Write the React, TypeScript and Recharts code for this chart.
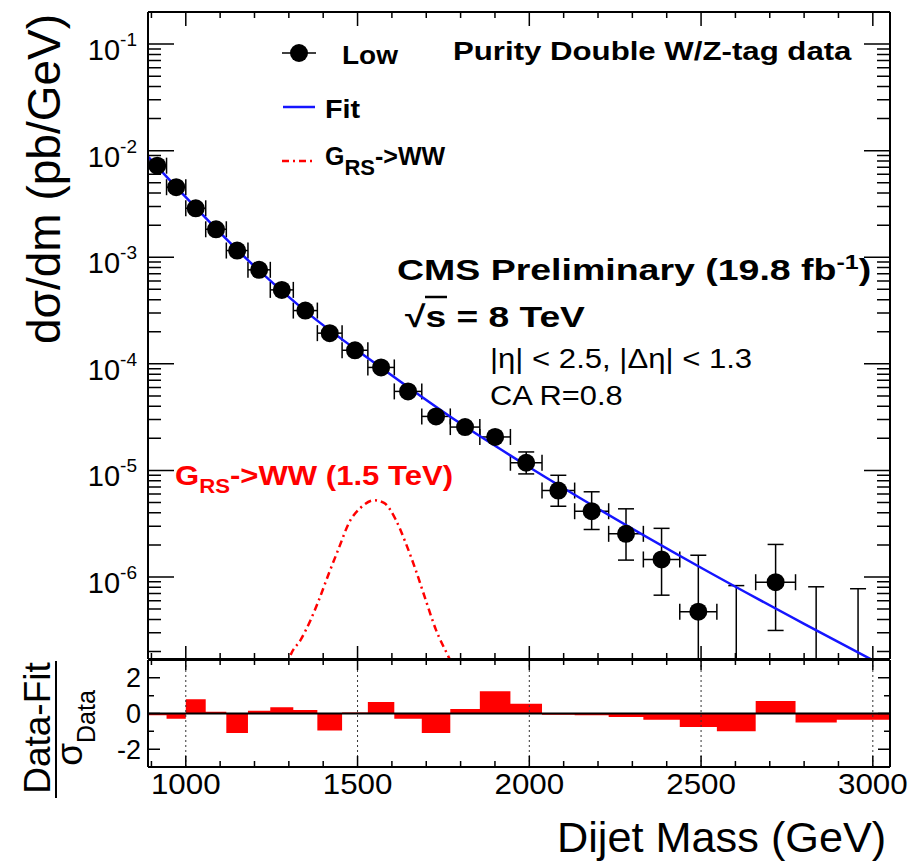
import React from "react";
import {
  ComposedChart,
  XAxis,
  YAxis,
  Line,
  Scatter,
  ErrorBar,
  Area,
  ReferenceLine,
} from "recharts";

// dijet mass binning (GeV)
const binEdges = [
  890, 944, 1000, 1058, 1118, 1181, 1246, 1313, 1383, 1455, 1530, 1607, 1687, 1770, 1856,
  1945, 2037, 2132, 2231, 2332, 2438, 2546, 2659, 2775, 2895, 3019, 3147,
];

// measured dsigma/dm per bin in pb/GeV (null = empty bin)
const xsec = [
  7.23e-3, 4.54e-3, 2.88e-3, 1.83e-3, 1.156e-3, 7.62e-4, 4.94e-4, 3.16e-4, 1.94e-4, 1.34e-4,
  9.25e-5, 5.51e-5, 3.21e-5, 2.55e-5, 2.06e-5, 1.18e-5, 6.47e-6, 4.14e-6, 2.54e-6, 1.46e-6,
  4.72e-7, null, 8.93e-7, null, null,
];
// lower / upper ends of the vertical error bars (null = hidden under the marker)
const xsecLow = [
  null, null, null, null, null, null, null, null, null, null, null, null, null, null, null,
  9.27e-6, 4.61e-6, 2.79e-6, 1.44e-6, 6.75e-7, 8e-8, null, 3.15e-7, null, null,
];
const xsecHigh = [
  null, null, null, null, null, null, null, null, null, null, null, null, null, null, null,
  1.49e-5, 9.0e-6, 6.3e-6, 4.36e-6, 2.86e-6, 1.6e-6, 8.3e-7, 2.02e-6, 8.09e-7, 7.76e-7,
];

// fitted background
const fitMass = [890, 1000, 1150, 1350, 1569, 1800, 2000, 2200, 2500, 2800, 3050];
const fitValue = [8.8e-3, 3.66e-3, 1.17e-3, 3.09e-4, 9.2e-5, 2.75e-5, 1.07e-5, 4.37e-6, 1.22e-6, 3.63e-7, 1.36e-7];

// RS graviton -> WW, 1.5 TeV
const signalMass = [1290, 1304, 1335, 1364, 1388, 1417, 1446, 1475, 1509, 1548, 1577, 1611, 1640, 1669, 1698, 1728, 1766, 1780];
const signalValue = [
  1.3e-7, 1.81e-7, 2.59e-7, 3.99e-7, 6.14e-7, 1.09e-6, 1.88e-6, 3.22e-6, 4.46e-6, 5.25e-6,
  4.96e-6, 3.46e-6, 2.09e-6, 1.17e-6, 6.14e-7, 3.21e-7, 1.75e-7, 1.4e-7,
];

// (data - fit) / sigma per bin
const pulls = [
  -0.1, -0.3, 0.8, 0.1, -1.1, 0.15, 0.35, 0.2, -0.95, 0.05, 0.65, -0.3, -1.1, 0.25, 1.25,
  0.55, -0.07, -0.1, -0.2, -0.35, -0.75, -1.0, 0.7, -0.5, -0.35, -0.35,
];

const massLabels = [1000, 1500, 2000, 2500, 3000];
const decadeLabels = [-6, -5, -4, -3, -2, -1];
const pullLabels = [-2, 0, 2];
const pullMinor = [-3, -1, 1, 3];

const M_DOMAIN: [number, number] = [890, 3050];
const Y_DOMAIN: [number, number] = [1.7e-7, 0.2];
const P_DOMAIN: [number, number] = [-3, 3];
const EMPTY_FLOOR = 1e-8;

const FONT = "'Liberation Sans', Arial, Helvetica, sans-serif";
const BLUE = "#1515ff";
const RED = "#ff0000";

const massMinor: number[] = [];
for (let m = 900; m <= 3000; m += 100) if (m % 500 !== 0) massMinor.push(m);

const decades: number[] = [];
const logMinor: number[] = [];
for (let e = -7; e <= -1; e++) {
  for (let d = 1; d <= 9; d++) {
    const v = d * Math.pow(10, e);
    if (v < Y_DOMAIN[0] || v > Y_DOMAIN[1]) continue;
    if (d === 1) decades.push(v);
    else logMinor.push(v);
  }
}

const points = xsec
  .map((v, i) => {
    const lo = binEdges[i];
    const hi = binEdges[i + 1];
    if (v == null) return null;
    return {
      m: (lo + hi) / 2,
      v,
      ex: (hi - lo) / 2,
      ey: xsecLow[i] != null && xsecHigh[i] != null ? [v - (xsecLow[i] as number), (xsecHigh[i] as number) - v] : null,
    };
  })
  .filter(Boolean);

// empty bins only carry an upper error bar rising from the bottom of the frame
const emptyBins = xsec
  .map((v, i) => {
    if (v != null) return null;
    return {
      m: (binEdges[i] + binEdges[i + 1]) / 2,
      v: EMPTY_FLOOR,
      ey: [0, (xsecHigh[i] as number) - EMPTY_FLOOR],
    };
  })
  .filter(Boolean);

const fitData = fitMass.map((m, i) => ({ m, v: fitValue[i] }));
const signalData = signalMass.map((m, i) => ({ m, v: signalValue[i] }));
const pullData = binEdges.map((m, i) => ({ m, r: pulls[Math.min(i, pulls.length - 1)] }));

const frame = { stroke: "#000", strokeWidth: 2 };

// ROOT-style inner ticks: a reference line per tick value, drawn only as short stubs at the frame edges
const hTicks = (len: number) => (p: any) => {
  const l = Math.min(p.x1, p.x2);
  const r = Math.max(p.x1, p.x2);
  const y = p.y1;
  return (
    <path d={`M${l},${y}H${l + len}M${r - len},${y}H${r}`} stroke="#000" strokeWidth={1.5} fill="none" />
  );
};
const vTicks = (top: number, bottom: number) => (p: any) => {
  const t = Math.min(p.y1, p.y2);
  const b = Math.max(p.y1, p.y2);
  const x = p.x1;
  return (
    <path d={`M${x},${t}V${t + top}M${x},${b - bottom}V${b}`} stroke="#000" strokeWidth={1.5} fill="none" />
  );
};

const LogLabel = (props: any) => {
  const { x, y, payload } = props;
  const e = Math.round(Math.log10(payload.value));
  if (!decadeLabels.includes(e)) return <g />;
  return (
    <text x={x - 11} y={y + 16} textAnchor="end" fontSize={29} fontFamily={FONT} fill="#000">
      10
      <tspan dy={-14} fontSize={19}>
        {e}
      </tspan>
    </text>
  );
};

const PullLabel = (props: any) => {
  const { x, y, payload } = props;
  return (
    <text x={x - 7} y={y + 9.5} textAnchor="end" fontSize={27} fontFamily={FONT} fill="#000">
      {payload.value}
    </text>
  );
};

const MassLabel = (props: any) => {
  const { x, y, payload } = props;
  return (
    <text
      transform={`translate(${x},${y + 27}) scale(1.08,1)`}
      textAnchor="middle"
      fontSize={29}
      fontFamily={FONT}
      fill="#000"
    >
      {payload.value}
    </text>
  );
};

const Marker = (props: any) => <circle cx={props.cx} cy={props.cy} r={9} fill="#000" />;
const NoMarker = () => <g />;

function tickLines(xs: number[], ys: number[], xLen: [number, number], yLen: number, suffix: string) {
  return [
    ...xs.map((m) => (
      <ReferenceLine key={`x${suffix}${m}`} xAxisId="b" yAxisId="l" x={m} shape={vTicks(xLen[0], xLen[1])} />
    )),
    ...ys.map((v) => (
      <ReferenceLine key={`y${suffix}${v}`} xAxisId="b" yAxisId="l" y={v} shape={hTicks(yLen)} />
    )),
  ];
}

function SpectrumPanel() {
  return (
    <ComposedChart width={914} height={660} margin={{ top: 11, right: 23, bottom: 0, left: 0 }}>
      <XAxis
        xAxisId="b"
        dataKey="m"
        type="number"
        domain={M_DOMAIN}
        allowDataOverflow
        ticks={massLabels}
        height={1}
        tick={false}
        tickLine={false}
        axisLine={frame}
      />
      <XAxis
        xAxisId="t"
        orientation="top"
        dataKey="m"
        type="number"
        domain={M_DOMAIN}
        allowDataOverflow
        ticks={massLabels}
        height={1}
        tick={false}
        tickLine={false}
        axisLine={frame}
      />
      <YAxis
        yAxisId="l"
        dataKey="v"
        type="number"
        scale="log"
        domain={Y_DOMAIN}
        allowDataOverflow
        ticks={decades}
        interval={0}
        width={148}
        tickSize={0}
        tickMargin={0}
        tickLine={false}
        axisLine={frame}
        tick={LogLabel}
      />
      <YAxis
        yAxisId="r"
        orientation="right"
        type="number"
        scale="log"
        domain={Y_DOMAIN}
        allowDataOverflow
        ticks={decades}
        width={1}
        tick={false}
        tickLine={false}
        axisLine={frame}
      />

      {tickLines(massLabels, decades, [14, 13], 26, "M")}
      {tickLines(massMinor, logMinor, [6, 6], 13, "m")}

      <Line
        xAxisId="b"
        yAxisId="l"
        data={signalData}
        dataKey="v"
        type="monotone"
        stroke={RED}
        strokeWidth={2.5}
        strokeDasharray="7 4 2 4"
        dot={false}
        isAnimationActive={false}
      />
      <Scatter
        xAxisId="b"
        yAxisId="l"
        data={emptyBins as any[]}
        dataKey="v"
        shape={NoMarker}
        isAnimationActive={false}
      >
        <ErrorBar dataKey="ey" direction="y" width={8} stroke="#000" strokeWidth={1.5} />
      </Scatter>
      <Scatter
        xAxisId="b"
        yAxisId="l"
        data={points as any[]}
        dataKey="v"
        shape={Marker}
        isAnimationActive={false}
      >
        <ErrorBar dataKey="ex" direction="x" width={8} stroke="#000" strokeWidth={1.5} />
        <ErrorBar dataKey="ey" direction="y" width={8} stroke="#000" strokeWidth={1.5} />
      </Scatter>
      <Line
        xAxisId="b"
        yAxisId="l"
        data={fitData}
        dataKey="v"
        type="monotone"
        stroke={BLUE}
        strokeWidth={2.5}
        dot={false}
        isAnimationActive={false}
      />
    </ComposedChart>
  );
}

function PullPanel() {
  return (
    <ComposedChart width={914} height={215} margin={{ top: 9, right: 23, bottom: 0, left: 0 }}>
      <XAxis
        xAxisId="b"
        dataKey="m"
        type="number"
        domain={M_DOMAIN}
        allowDataOverflow
        ticks={massLabels}
        interval={0}
        height={98}
        tickSize={0}
        tickMargin={0}
        tickLine={false}
        axisLine={frame}
        tick={MassLabel}
      />
      <XAxis
        xAxisId="t"
        orientation="top"
        dataKey="m"
        type="number"
        domain={M_DOMAIN}
        allowDataOverflow
        ticks={massLabels}
        height={1}
        tick={false}
        tickLine={false}
        axisLine={frame}
      />
      <YAxis
        yAxisId="l"
        dataKey="r"
        type="number"
        domain={P_DOMAIN}
        allowDataOverflow
        ticks={pullLabels}
        interval={0}
        width={148}
        tickSize={0}
        tickMargin={0}
        tickLine={false}
        axisLine={frame}
        tick={PullLabel}
      />
      <YAxis
        yAxisId="r"
        orientation="right"
        type="number"
        domain={P_DOMAIN}
        allowDataOverflow
        ticks={pullLabels}
        width={1}
        tick={false}
        tickLine={false}
        axisLine={frame}
      />

      {massLabels.map((m) => (
        <ReferenceLine
          key={m}
          xAxisId="b"
          yAxisId="l"
          x={m}
          stroke="#333"
          strokeWidth={1}
          strokeDasharray="2 3"
        />
      ))}
      {tickLines(massLabels, pullLabels, [10, 11], 12, "M")}
      {tickLines(massMinor, pullMinor, [5, 6], 6, "m")}
      <Area
        xAxisId="b"
        yAxisId="l"
        data={pullData}
        dataKey="r"
        type="stepAfter"
        baseValue={0}
        fill={RED}
        fillOpacity={1}
        stroke="none"
        isAnimationActive={false}
      />
      <ReferenceLine xAxisId="b" yAxisId="l" y={0} stroke="#000" strokeWidth={2} />
    </ComposedChart>
  );
}

function Labels() {
  const t = (x: number, y: number, sx: number) => `translate(${x},${y}) scale(${sx},1)`;
  return (
    <svg
      width={914}
      height={865}
      style={{ position: "absolute", left: 0, top: 0, pointerEvents: "none" }}
      fontFamily={FONT}
    >
      {/* legend */}
      <line x1={282} x2={316} y1={53} y2={53} stroke="#000" strokeWidth={1.5} />
      <circle cx={299} cy={53} r={9} fill="#000" />
      <line x1={283} x2={315} y1={107} y2={107} stroke={BLUE} strokeWidth={2.5} />
      <line x1={282} x2={316} y1={161} y2={161} stroke={RED} strokeWidth={2.5} strokeDasharray="7 4 2 4" />
      <text transform={t(342, 64, 1.12)} fontSize={25} fontWeight="bold">Low</text>
      <text transform={t(325, 118, 1.15)} fontSize={25} fontWeight="bold">Fit</text>
      <text transform={t(325, 165, 1.0)} fontSize={25} fontWeight="bold">
        G<tspan dy={10} fontSize={22}>RS</tspan>
        <tspan dy={-10}>-&gt;WW</tspan>
      </text>
      <text transform={t(453, 60, 1.2)} fontSize={26} fontWeight="bold">
        Purity Double W/Z-tag data
      </text>

      {/* experiment labels */}
      <text transform={t(397, 280, 1.25)} fontSize={30} fontWeight="bold">
        CMS Preliminary (19.8 fb<tspan dy={-11} fontSize={20}>-1</tspan>
        <tspan dy={11}>)</tspan>
      </text>
      <text transform={t(405, 327, 1.24)} fontSize={30} fontWeight="bold">
        √s = 8 TeV
      </text>
      <line x1={425} x2={447} y1={297} y2={297} stroke="#000" strokeWidth={2.5} />
      <text transform={t(490, 368, 1.11)} fontSize={28}>
        |η| &lt; 2.5, |Δη| &lt; 1.3
      </text>
      <text transform={t(490, 405, 1.1)} fontSize={28}>
        CA R=0.8
      </text>
      <text transform={t(175, 485, 1.11)} fontSize={28} fontWeight="bold" fill={RED}>
        G<tspan dy={8} fontSize={20}>RS</tspan>
        <tspan dy={-8}>-&gt;WW (1.5 TeV)</tspan>
      </text>

      {/* axis titles */}
      <text transform="translate(60,179) rotate(-90)" textAnchor="middle" fontSize={46}>
        dσ/dm (pb/GeV)
      </text>
      <text transform={t(557, 852, 1.03)} fontSize={42}>
        Dijet Mass (GeV)
      </text>
      <text transform="translate(50,728) rotate(-90)" textAnchor="middle" fontSize={37}>
        Data-Fit
      </text>
      <line x1={56} x2={56} y1={661} y2={798} stroke="#000" strokeWidth={2} />
      <text transform="translate(82,728) rotate(-90)" textAnchor="middle" fontSize={37}>
        σ<tspan dy={13} fontSize={25}>Data</tspan>
      </text>
    </svg>
  );
}

export default function App() {
  return (
    <div style={{ position: "absolute", left: 0, top: 0, width: 914, height: 865, background: "#fff" }}>
      <div style={{ position: "absolute", left: 0, top: 0 }}>
        <SpectrumPanel />
      </div>
      <div style={{ position: "absolute", left: 0, top: 650 }}>
        <PullPanel />
      </div>
      <Labels />
    </div>
  );
}
